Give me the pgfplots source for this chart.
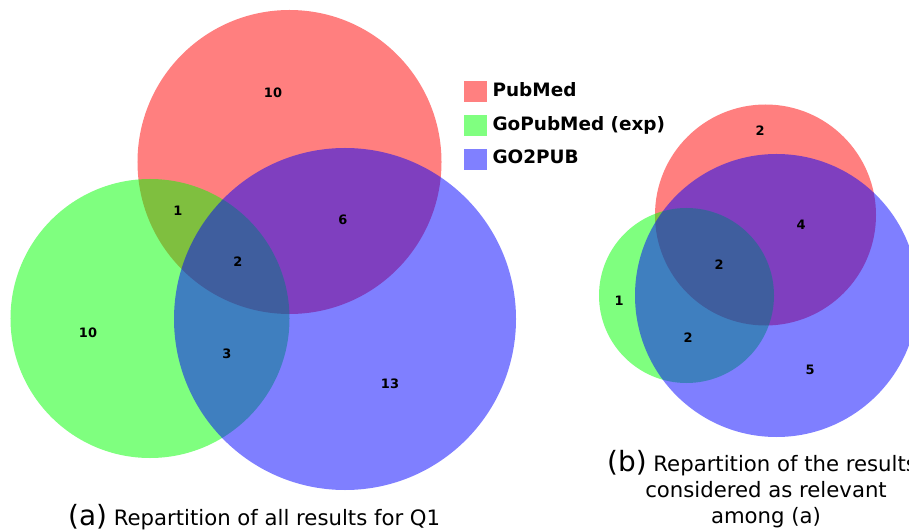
\documentclass[border=0pt]{standalone}
\usepackage{fontspec}
\setmainfont{DejaVu Sans}
\usepackage{pgfplots}
\pgfplotsset{compat=1.18}
\definecolor{vred}{RGB}{255,0,0}
\definecolor{vgreen}{RGB}{0,255,0}
\definecolor{vblue}{RGB}{0,0,255}
\definecolor{lred}{RGB}{255,128,128}
\definecolor{lgreen}{RGB}{128,255,128}
\definecolor{lblue}{RGB}{128,128,255}
\begin{document}
\begin{tikzpicture}
\begin{axis}[x=1bp, y=1bp, xmin=0, xmax=909, ymin=0, ymax=531, y dir=reverse,
  hide axis, clip=false,
  legend style={at={(axis cs:464,81)}, anchor=north west, draw=none, fill=none,
    inner sep=0pt, row sep=13.5bp, column sep=6bp,
    nodes={inner sep=0pt, text height=13.5bp, text depth=4bp},
    font=\bfseries\fontsize{18.5}{18.5}\selectfont},
  legend cell align=left,
  legend image code/.code={\fill[#1] (0bp,-10bp) rectangle (22bp,10bp);},
  circ/.style={only marks, mark=*, mark size=#1},
]
% (a) circles: centre (x,y) in pixels, radius as mark size
\addplot[circ=152bp, mark options={fill=vred, draw=none, draw opacity=0, fill opacity=0.5}, forget plot] coordinates {(289.5,162)};
\addplot[circ=139.5bp, mark options={fill=vgreen, draw=none, draw opacity=0, fill opacity=0.5}, forget plot] coordinates {(150,318.5)};
\addplot[circ=171bp, mark options={fill=vblue, draw=none, draw opacity=0, fill opacity=0.5}, forget plot] coordinates {(345,319)};
% (b) circles
\addplot[circ=110.5bp, mark options={fill=vred, draw=none, draw opacity=0, fill opacity=0.5}, forget plot] coordinates {(765.5,215)};
\addplot[circ=87.5bp, mark options={fill=vgreen, draw=none, draw opacity=0, fill opacity=0.5}, forget plot] coordinates {(686.5,295.5)};
\addplot[circ=141.5bp, mark options={fill=vblue, draw=none, draw opacity=0, fill opacity=0.5}, forget plot] coordinates {(776.5,295.5)};
% region counts
\addplot[only marks, mark=none, point meta=explicit symbolic, nodes near coords,
  nodes near coords align=center, forget plot,
  every node near coord/.append style={font=\bfseries\fontsize{13}{13}\selectfont, inner sep=0pt, anchor=center}]
  table[meta=label] {
x y label
273 93 10
178 211 1
343 220 6
238 262 2
88 333 10
227 354 3
390 384 13
760 131 2
801 225 4
719 265 2
619 301 1
688 338 2
810 370 5
};
\addlegendimage{legend image code/.code={\fill[lred] (0bp,-10bp) rectangle (22bp,10bp);}}
\addlegendentry{PubMed}
\addlegendimage{legend image code/.code={\fill[lgreen] (0bp,-10bp) rectangle (22bp,10bp);}}
\addlegendentry{GoPubMed (exp)}
\addlegendimage{legend image code/.code={\fill[lblue] (0bp,-10bp) rectangle (22bp,10bp);}}
\addlegendentry{GO2PUB}
% captions
\node[anchor=base west, inner sep=0pt, font=\fontsize{21.3}{21.3}\selectfont] at (axis cs:68,525)
  {{\fontsize{28}{28}\selectfont (a)} Repartition of all results for Q1};
\node[anchor=base west, inner sep=0pt, font=\fontsize{21.3}{21.3}\selectfont] at (axis cs:607,471)
  {{\fontsize{28}{28}\selectfont (b)} Repartition of the results};
\node[anchor=base, inner sep=0pt, font=\fontsize{21.3}{21.3}\selectfont] at (axis cs:766,497)
  {considered as relevant};
\node[anchor=base, inner sep=0pt, font=\fontsize{21.3}{21.3}\selectfont] at (axis cs:766,523)
  {among (a)};
\end{axis}
\pgfresetboundingbox
\path (current axis.south west) rectangle (current axis.north east);
\end{tikzpicture}
\end{document}
